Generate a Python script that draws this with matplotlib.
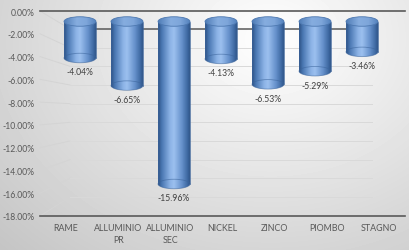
import numpy as np
import matplotlib
matplotlib.use("Agg")
import matplotlib.pyplot as plt
from matplotlib.patches import Ellipse, PathPatch
from matplotlib.path import Path
from matplotlib.colors import LinearSegmentedColormap

# ---- data ----
categories = ["RAME", "ALLUMINIO\nPR", "ALLUMINIO\nSEC", "NICKEL", "ZINCO", "PIOMBO", "STAGNO"]
values = [-4.04, -6.65, -15.96, -4.13, -6.53, -5.29, -3.46]
yticks = [0, -2, -4, -6, -8, -10, -12, -14, -16, -18]
ytick_labels = [f"{t:.2f}%" for t in yticks]

plt.rcParams['font.family'] = ['Lato', 'DejaVu Sans']
TXT = '#595959'

W, H = 410, 251
fig = plt.figure(figsize=(W / 100, H / 100), dpi=100)

# ---- background gradient ----
bg = fig.add_axes([0, 0, 1, 1], zorder=-10)
yy, xx = np.mgrid[0:H, 0:W]
r = np.sqrt(((xx - 270) / 330) ** 2 + ((yy - 40) / 260) ** 2)
img = np.clip(1.0 - 0.2 * r, 0.76, 1.0)
bg.imshow(img, cmap='gray', vmin=0, vmax=1, aspect='auto', extent=(0, W, H, 0), interpolation='bilinear')
bg.set_xlim(0, W); bg.set_ylim(H, 0); bg.axis('off')

# ---- pixel overlay for walls / gridlines (derived from tick values) ----
L, R, T, B = 40, 405, 12, 217
BL, BR, BT = 70, 372, 30
front_scale = (B - T) / 18.0
back_scale = 168 / 18.0

def front_y(v):
    return T + abs(v) * front_scale

def back_y(v):
    return BT + abs(v) * back_scale

px = fig.add_axes([0, 0, 1, 1], zorder=-5)
px.set_xlim(0, W); px.set_ylim(H, 0); px.axis('off')
px.patch.set_alpha(0)
for t in yticks:
    px.plot([L, BL], [front_y(t), back_y(t)], color='#d4d4d4', lw=0.7)
    if t != 0:
        px.plot([BL, BR], [back_y(t), back_y(t)], color='#d9d9d9', lw=0.7)
px.plot([BL, BR], [back_y(0), back_y(0)], color='#595959', lw=1.1)

# ---- front axes (ticks, labels, front lines) ----
ax = fig.add_axes([L / W, 1 - B / H, (R - L) / W, (B - T) / H], zorder=1)
ax.patch.set_alpha(0)
ax.set_ylim(-18, 0)
ax.set_xlim(-0.5, 6.5)
for s in ax.spines.values():
    s.set_visible(False)
ax.axhline(0, color='#595959', lw=1.2, clip_on=False)
ax.axhline(-18, color='#595959', lw=1.2, clip_on=False)
ax.set_yticks(yticks)
ax.set_yticklabels(ytick_labels, fontsize=6.2, color=TXT)
ax.set_xticks(range(len(categories)))
ax.set_xticklabels(categories, fontsize=6.4, color=TXT, linespacing=1.5)
ax.tick_params(axis='both', length=0)
ax.tick_params(axis='y', pad=4)
ax.tick_params(axis='x', pad=5)

# ---- cylinder axes ----
C0, CS = 16.3, 10.57   # pixel of value 0 and pixels per %
cax = fig.add_axes([L / W, 1 - B / H, (R - L) / W, (B - T) / H], zorder=2)
cax.patch.set_alpha(0)
cax.axis('off')
XS, X0 = 47.0, 80.0
xlim = ((L - X0) / XS, (R - X0) / XS)
ylim = (-(B - C0) / CS, (C0 - T) / CS)

body_cmap = LinearSegmentedColormap.from_list('body', [
    (0.0, '#2c5185'), (0.12, '#4a77b2'), (0.38, '#8cb3e6'), (0.5, '#9cc0ef'),
    (0.75, '#6691cb'), (0.92, '#3f6aa3'), (1.0, '#2e5488')])
top_cmap = LinearSegmentedColormap.from_list('top', [
    (0.0, '#4f7cb6'), (0.4, '#86addf'), (0.7, '#7ea6da'), (1.0, '#5482bd')])

w = 0.68
eh = 9.5 / CS
base = -(22.5 - C0) / CS
grad = np.linspace(0, 1, 256).reshape(1, -1)

for i, v in enumerate(values):
    x0, x1 = i - w / 2, i + w / 2
    t = np.linspace(0, np.pi, 40)
    ex = i + (w / 2) * np.cos(t)
    ey = v - (eh / 2) * np.sin(t)
    verts = [(x0, base), (x1, base), (x1, v)] + list(zip(ex, ey)) + [(x0, v), (x0, base)]
    path = Path(verts)
    patch = PathPatch(path, transform=cax.transData, facecolor='none', edgecolor='none')
    cax.add_patch(patch)
    im = cax.imshow(grad, cmap=body_cmap, aspect='auto',
                    extent=(x0, x1, v - eh / 2, base), zorder=3, interpolation='bilinear')
    im.set_clip_path(patch)
    # bottom ellipse outline
    cax.add_patch(Ellipse((i, v), w, eh, facecolor='none', edgecolor='#3b649b',
                          lw=0.6, alpha=0.6, zorder=4))
    # outer edges
    cax.plot([x0, x0], [base, v], color='#3a6298', lw=0.5, zorder=4)
    cax.plot([x1, x1], [base, v], color='#3a6298', lw=0.5, zorder=4)
    # top face
    top = Ellipse((i, base), w, eh, transform=cax.transData, facecolor='none', edgecolor='none')
    cax.add_patch(top)
    im2 = cax.imshow(grad, cmap=top_cmap, aspect='auto',
                     extent=(x0, x1, base - eh / 2, base + eh / 2), zorder=5, interpolation='bilinear')
    im2.set_clip_path(top)
    cax.add_patch(Ellipse((i, base), w, eh, facecolor='none', edgecolor='#4d78b0',
                          lw=0.6, zorder=6))
    cax.annotate(f"{v:.2f}%", (i, v), xytext=(0, -10), textcoords='offset points',
                 ha='center', va='center', fontsize=6.2, color='#404040')

cax.set_xlim(*xlim)
cax.set_ylim(*ylim)

fig.savefig('out.png', dpi=100)
